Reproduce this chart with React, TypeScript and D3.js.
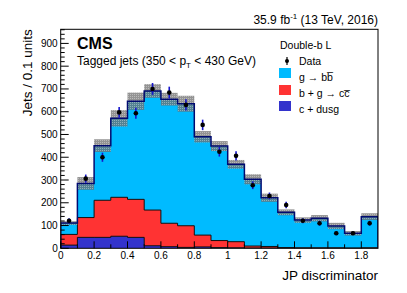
import * as d3 from 'd3';

// bin edges 0 .. 1.9 in steps of 0.1
const binEdges = [0, 0.1, 0.2, 0.3, 0.4, 0.5, 0.6, 0.7, 0.8, 0.9, 1.0, 1.1, 1.2, 1.3, 1.4, 1.5, 1.6, 1.7, 1.8, 1.9];

// stacked MC components (per bin)
const cDusg = [14, 48, 48, 53, 48, 11, 7, 4, 6, 3, 2, 1, 1, 1, 0, 0, 0, 0, 0];
const bgCC = [47, 87, 163, 171, 167, 157, 103, 95, 52, 31, 27, 9, 7, 2, 2, 2, 2, 1, 2];
const gBB = [50, 150, 240, 347, 431, 523, 545, 536, 432, 415, 340, 293, 214, 155, 122, 130, 96, 65, 137];

// MC stat+syst uncertainty on the total
const mcUnc = [8, 28, 28, 36, 38, 30, 28, 35, 25, 22, 19, 22, 18, 13, 12, 14, 14, 10, 15];

// data points and their errors
const dataVals = [121, 306, 400, 597, 593, 700, 684, 630, 542, 424, 406, 277, 230, 190, 121, 110, 66, 66, 110];
const dataErr = [11, 18, 20, 24, 24, 26, 26, 25, 23, 21, 20, 17, 15, 14, 11, 11, 8, 8, 11];

const xLabels = [0, 0.2, 0.4, 0.6, 0.8, 1, 1.2, 1.4, 1.6, 1.8];
const yLabels = [0, 100, 200, 300, 400, 500, 600, 700, 800, 900];

const FONT = "'Liberation Sans', Arial, Helvetica, sans-serif";

export default function App() {
  const width = 407;
  const height = 293;
  const left = 60.7, right = 378, top = 29.3, bottom = 248.3;

  const x = d3.scaleLinear().domain([0, 1.9]).range([left, right]);
  const y = d3.scaleLinear().domain([0, 962]).range([bottom, top]);

  const n = cDusg.length;
  const lvl1 = cDusg;
  const lvl2 = cDusg.map((v, i) => v + bgCC[i]);
  const lvl3 = lvl2.map((v, i) => v + gBB[i]);

  // step points: one per edge, last edge repeats last bin
  const stepPts = (vals: number[]) => binEdges.map((e, i) => [e, vals[Math.min(i, n - 1)]] as [number, number]);

  const area = d3.area<[number, number]>()
    .x(d => x(d[0]))
    .y0(bottom)
    .y1(d => y(d[1]))
    .curve(d3.curveStepAfter);

  const outline = (vals: number[]) => {
    const l = d3.line<[number, number]>().x(d => x(d[0])).y(d => y(d[1])).curve(d3.curveStepAfter);
    const pts = stepPts(vals);
    return `M${x(0)},${bottom}L` + (l(pts) as string).slice(1) + `L${x(1.9)},${bottom}`;
  };

  const yMinor = d3.range(0, 961, 20);
  const xMinor = d3.range(0, 19).map(i => i / 10);

  return (
    <svg width={width} height={height} style={{ position: 'absolute', left: 0, top: 0, background: '#fff' }} fontFamily={FONT}>
      <defs>
        <pattern id="unc" width="2" height="2" patternUnits="userSpaceOnUse">
          <rect width="2" height="2" fill="#6e6e6e" fillOpacity="0.75" />
          <rect width="1" height="1" fill="#ffffff" fillOpacity="0.35" />
        </pattern>
        <clipPath id="frame">
          <rect x={left} y={top} width={right - left} height={bottom - top} />
        </clipPath>
      </defs>

      <g clipPath="url(#frame)">
        <path d={area(stepPts(lvl3)) as string} fill="#00bbff" />
        <path d={area(stepPts(lvl2)) as string} fill="#ff3333" />
        <path d={area(stepPts(lvl1)) as string} fill="#3333cc" />
        <path d={outline(lvl2)} fill="none" stroke="#111" strokeWidth={1} />
        <path d={outline(lvl1)} fill="none" stroke="#111" strokeWidth={1} />

        {lvl3.map((t, i) => (
          <rect key={i} x={x(binEdges[i])} width={x(binEdges[i + 1]) - x(binEdges[i])}
            y={y(t + mcUnc[i])} height={y(t - mcUnc[i]) - y(t + mcUnc[i])} fill="url(#unc)" />
        ))}

        <path d={outline(lvl3)} fill="none" stroke="#000a70" strokeWidth={1.5} />
      </g>

      {dataVals.map((v, i) => {
        const cx = x((binEdges[i] + binEdges[i + 1]) / 2);
        return (
          <g key={i}>
            <line x1={cx} x2={cx} y1={y(v - dataErr[i])} y2={y(v + dataErr[i])} stroke="#1515cc" strokeWidth={1.6} />
            <circle cx={cx} cy={y(v)} r={2.3} fill="#000" />
          </g>
        );
      })}

      <rect x={left} y={top} width={right - left} height={bottom - top} fill="none" stroke="#000" strokeWidth={1} />

      {/* y axis */}
      {yMinor.map(v => (
        <line key={v} x1={left} x2={left + (v % 100 === 0 ? 8 : 4)} y1={y(v)} y2={y(v)} stroke="#000" strokeWidth={1} />
      ))}
      {yLabels.map(v => (
        <text key={v} x={left - 3} y={y(v) + 3.5} fontSize={10} textAnchor="end" fill="#000">{v}</text>
      ))}

      {/* x axis */}
      {xMinor.map(v => (
        <line key={v} x1={x(v)} x2={x(v)} y1={bottom} y2={bottom - (Math.round(v * 10) % 2 === 0 ? 7 : 4)} stroke="#000" strokeWidth={1} />
      ))}
      {xLabels.map(v => (
        <text key={v} x={x(v)} y={259} fontSize={10} textAnchor="middle" fill="#000">{v}</text>
      ))}

      <text x={right} y={280} fontSize={13.5} textAnchor="end" fill="#000">JP discriminator</text>
      <text transform={`translate(32,${top}) rotate(-90)`} fontSize={13.5} textAnchor="end" fill="#000">Jets / 0.1 units</text>

      <text x={right} y={24} fontSize={12} textAnchor="end" fill="#000">
        35.9 fb<tspan fontSize={8} dy={-5}>-1</tspan><tspan dy={5}> (13 TeV, 2016)</tspan>
      </text>

      <text x={77} y={49} fontSize={16} fontWeight="bold" fill="#000">CMS</text>
      <text x={77} y={65} fontSize={12} fill="#000">
        Tagged jets (350 &lt; p<tspan fontSize={8} dy={3}>T</tspan><tspan dy={-3}> &lt; 430 GeV)</tspan>
      </text>

      {/* legend */}
      <text x={280} y={49} fontSize={10.5} fill="#000">Double-b L</text>
      <line x1={287} x2={287} y1={57} y2={65} stroke="#000" strokeWidth={1.2} />
      <circle cx={287} cy={61} r={2} fill="#000" />
      <text x={299} y={65} fontSize={10.5} fill="#000">Data</text>

      <rect x={279} y={68} width={12} height={10} fill="#00bbff" />
      <text x={299} y={81} fontSize={10.5} fill="#000">g → bb̅</text>
      <rect x={279} y={85} width={12} height={10} fill="#ff3333" />
      <text x={299} y={97} fontSize={10.5} fill="#000">b + g → cc̅</text>
      <rect x={279} y={101} width={12} height={10} fill="#3333cc" />
      <text x={299} y={113} fontSize={10.5} fill="#000">c + dusg</text>
    </svg>
  );
}
